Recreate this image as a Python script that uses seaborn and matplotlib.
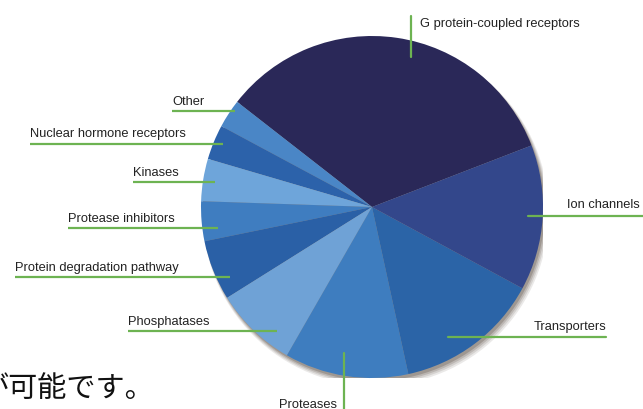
import matplotlib
matplotlib.use("Agg")
import matplotlib.pyplot as plt
import seaborn as sns
from matplotlib.patches import Circle
from matplotlib import font_manager

# ---- data ----
categories = ["G protein-coupled receptors", "Other", "Nuclear hormone receptors",
              "Kinases", "Protease inhibitors", "Protein degradation pathway",
              "Phosphatases", "Proteases", "Transporters", "Ion channels"]
shares = [33.6, 2.7, 3.3, 4.0, 3.75, 5.7, 7.8, 11.7, 13.7, 13.75]
colors = ["#2a2858", "#4a86c6", "#2c62aa", "#6ea5da", "#3f7dc0",
          "#2a60a6", "#6fa2d6", "#3e7dbf", "#2b64a7", "#33478b"]
jp_text = "が可能です。"

sns.set_theme(style="white")
names = {f.name for f in font_manager.fontManager.ttflist}
label_font = "Liberation Sans Narrow" if "Liberation Sans Narrow" in names else "Liberation Sans"
plt.rcParams["font.family"] = [label_font, "DejaVu Sans"]
narrow = label_font == "Liberation Sans Narrow"

W, H = 643, 410
fig = plt.figure(figsize=(W / 100, H / 100), dpi=100)
fig.patch.set_facecolor("white")

cx, cy, R = 372, 208, 171
ax = fig.add_axes([(cx - R) / W, (H - cy - R) / H, 2 * R / W, 2 * R / H])

# soft shadow
for i, a in enumerate([0.10, 0.12, 0.16, 0.22]):
    off = 0.035 - i * 0.006
    ax.add_patch(Circle((off * 0.6, -off), 1.0 + 0.004 * (3 - i), color="#3a2a20",
                        alpha=a, zorder=0, lw=0))

ax.pie(shares, colors=colors, startangle=21.1, counterclock=True,
       wedgeprops=dict(linewidth=0, antialiased=True))
ax.set_xlim(-1, 1)
ax.set_ylim(-1, 1)
ax.set_aspect("equal")
ax.axis("off")

# overlay for labels in pixel coordinates
ov = fig.add_axes([0, 0, 1, 1], facecolor="none")
ov.set_xlim(0, W)
ov.set_ylim(H, 0)
ov.axis("off")

green = "#6db352"
tc = "#222222"
fs = 11.0 if narrow else 9.3

# horizontal labels: (text, x_left, text_y, line_y, x_line_start, x_line_end)
hlabels = [
    ("Other", 172, 102, 112, 172, 235),
    ("Nuclear hormone receptors", 30, 134, 145, 30, 223),
    ("Kinases", 133, 173, 183, 133, 215),
    ("Protease inhibitors", 68, 219, 229, 68, 218),
    ("Protein degradation pathway", 15, 268, 278, 15, 230),
    ("Phosphatases", 128, 322, 332, 128, 277),
]
for t, xl, ty, ly, x0, x1 in hlabels:
    ov.text(xl, ty, t, fontsize=fs, color=tc, ha="left", va="center")
    ov.plot([x0, x1], [ly, ly], color=green, lw=1.6, solid_capstyle="butt")

# right-side labels
ov.text(606, 327, "Transporters", fontsize=fs, color=tc, ha="right", va="center")
ov.plot([448, 606], [338, 338], color=green, lw=1.6)
ov.text(567, 205, "Ion channels", fontsize=fs, color=tc, ha="left", va="center")
ov.plot([528, 643], [217, 217], color=green, lw=1.6)

# vertical labels
ov.text(420, 24, "G protein-coupled receptors", fontsize=fs, color=tc, ha="left", va="center")
ov.plot([411, 411], [17, 58], color=green, lw=1.6)
ov.text(308, 405, "Proteases", fontsize=fs, color=tc, ha="center", va="center")
ov.plot([344, 344], [354, 410], color=green, lw=1.6)

# Japanese caption (partially cut at left)
ov.text(-21, 389, jp_text, fontsize=21, color="#111111", ha="left", va="center",
        family=["Noto Sans CJK JP", "DejaVu Sans"])

fig.savefig("out.png", dpi=100, facecolor="white")
